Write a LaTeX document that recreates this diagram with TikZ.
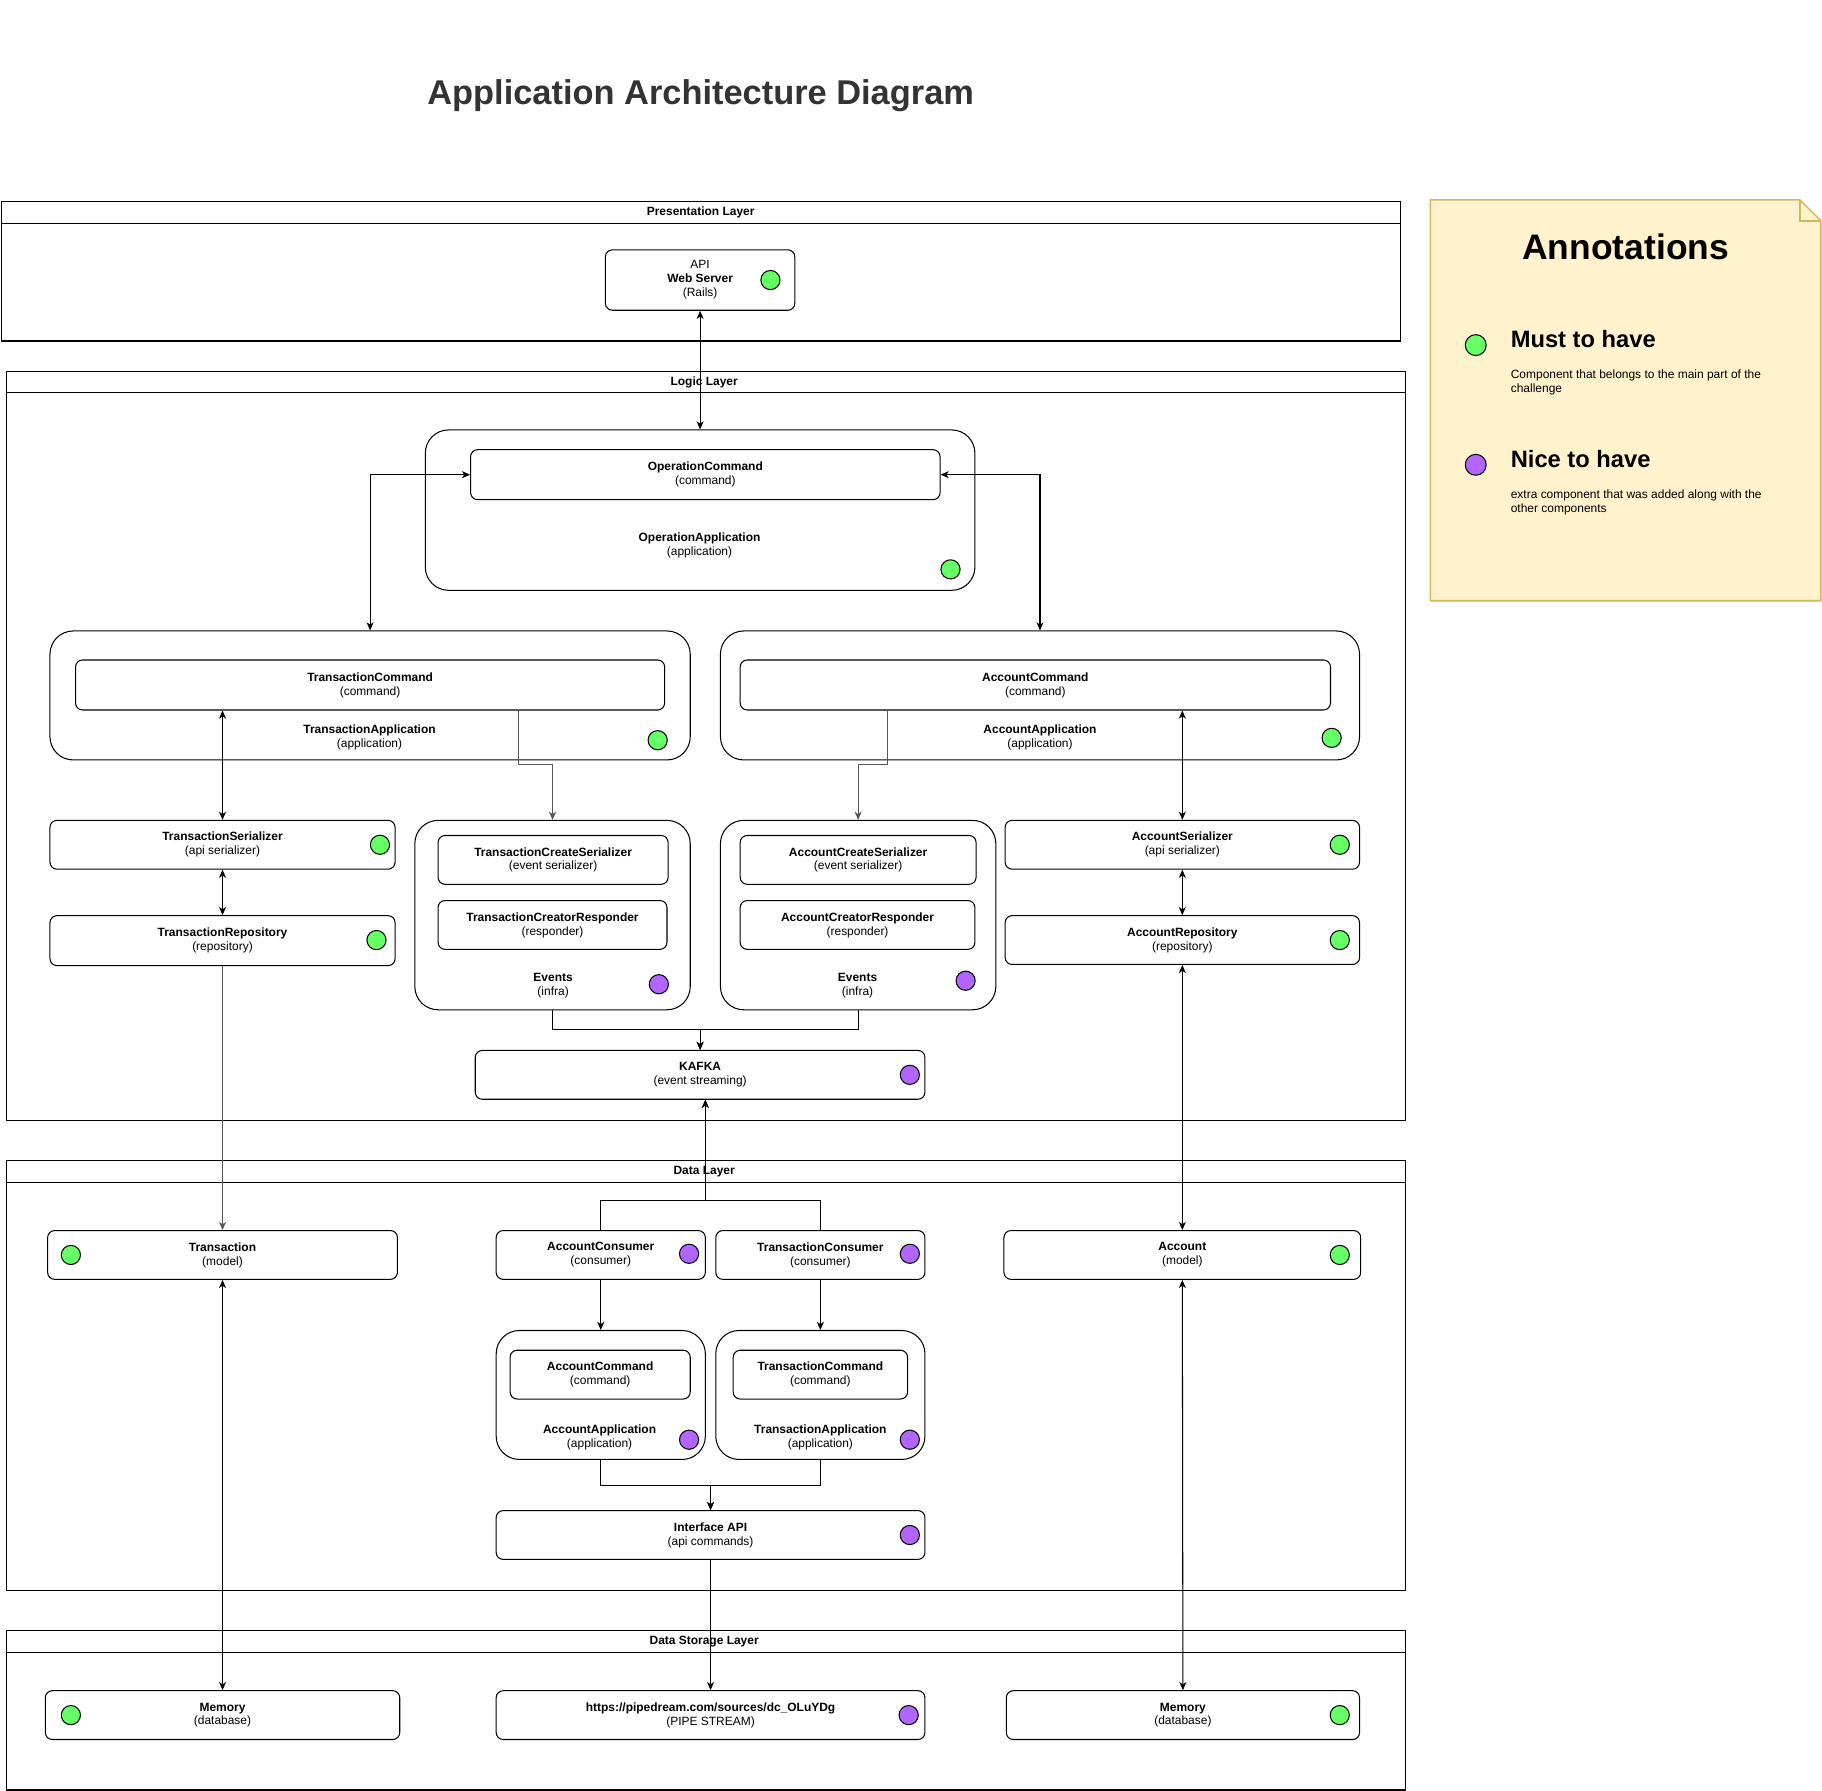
\documentclass[tikz,border=0pt]{standalone}
\usepackage{fontspec}
\setmainfont{Liberation Sans}
\usetikzlibrary{arrows.meta,calc}
\definecolor{mygreen}{HTML}{66FF66}
\definecolor{mypurple}{HTML}{B266FF}
\definecolor{notefill}{HTML}{FFF2CC}
\definecolor{notedraw}{HTML}{D6B656}
\definecolor{titlegray}{HTML}{333333}
\definecolor{linegray}{HTML}{555555}
\newcommand{\nf}{\fontsize{10.3}{12}\selectfont}
\newcommand{\nfb}{\fontsize{10.3}{12}\selectfont\bfseries}
\tikzset{
  box/.style={draw, fill=white, rounded corners=6pt, line width=0.9pt, align=center, inner sep=0pt, font=\nf},
  bigbox/.style={box, rounded corners=20pt},
  dotg/.style={circle, draw, fill=mygreen, minimum size=16.5pt, inner sep=0pt, line width=0.9pt},
  dotp/.style={dotg, fill=mypurple},
  layer/.style={draw, fill=white, line width=0.9pt, inner sep=0pt, anchor=north west},
  lbl/.style={font=\nf, align=center, inner sep=0pt},
  hdr/.style={font=\nfb, inner sep=0pt},
  arr/.style={-{Stealth[length=7pt,width=6pt,inset=2pt]}, line width=0.9pt},
  darr/.style={{Stealth[length=7pt,width=6pt,inset=2pt]}-{Stealth[length=7pt,width=6pt,inset=2pt]}, line width=0.9pt},
}
\begin{document}
\begin{tikzpicture}[x=1pt,y=-1pt]
\useasboundingbox (0,0) rectangle (1568,1541);

% title
\node[font=\fontsize{29.6}{34}\selectfont\bfseries, text=titlegray, inner sep=0pt] (title) at (603,82) {Application Architecture Diagram};

% layers
\node[layer, minimum width=1204.5pt, minimum height=120pt] (pres) at (0.5,173) {};
\draw[line width=0.9pt] (0.5,192) -- (1205,192);
\node[hdr] (presL) at (603,183) {Presentation Layer};

\node[layer, minimum width=1204pt, minimum height=645pt] (logic) at (5,319) {};
\draw[line width=0.9pt] (5,338) -- (1209,338);
\node[hdr] (logicL) at (606,329) {Logic Layer};

\node[layer, minimum width=1204pt, minimum height=370pt] (data) at (5,998) {};
\draw[line width=0.9pt] (5,1018) -- (1209,1018);
\node[hdr] (dataL) at (606,1008) {Data Layer};

\node[layer, minimum width=1204pt, minimum height=137pt] (store) at (5,1403) {};
\draw[line width=0.9pt] (5,1422) -- (1209,1422);
\node[hdr] (storeL) at (606,1413) {Data Storage Layer};

% annotations note
\filldraw[fill=notefill, draw=notedraw, line width=1.3pt] (1231,172) -- (1549,172) -- (1567,190) -- (1567,517) -- (1231,517) -- cycle;
\draw[draw=notedraw, line width=1.3pt] (1549,172) -- (1549,190) -- (1567,190);
\node[font=\fontsize{30.5}{35}\selectfont\bfseries, inner sep=0pt] (annT) at (1399,212) {Annotations};
\node[dotg, minimum size=18pt] (annG) at (1270,297) {};
\node[font=\fontsize{20.4}{24}\selectfont\bfseries, inner sep=0pt, anchor=west] (annM) at (1300,292) {Must to have};
\node[font=\nf, inner sep=0pt, anchor=north west, align=left] (annMd) at (1300,318) {Component that belongs to the main part of the\\challenge};
\node[dotp, minimum size=18pt] (annP) at (1270,400) {};
\node[font=\fontsize{20.4}{24}\selectfont\bfseries, inner sep=0pt, anchor=west] (annN) at (1300,395) {Nice to have};
\node[font=\nf, inner sep=0pt, anchor=north west, align=left] (annNd) at (1300,421) {extra component that was added along with the\\other components};

% presentation
\node[box, minimum width=163pt, minimum height=52pt] (web) at (602.5,241) {API\\\textbf{Web Server}\\(Rails)};
\node[dotg] (webD) at (663,241) {};

% operation application
\node[bigbox, minimum width=473pt, minimum height=138pt] (opapp) at (602.5,439) {};
\node[lbl] (opappL) at (602,469) {\textbf{OperationApplication}\\(application)};
\node[box, minimum width=404pt, minimum height=43pt] (opcmd) at (607,408.5) {\textbf{OperationCommand}\\(command)};
\node[dotg] (opD) at (818,490) {};

% transaction application
\node[bigbox, minimum width=551pt, minimum height=111pt] (txapp) at (318.5,598.5) {};
\node[lbl] (txappL) at (318,635) {\textbf{TransactionApplication}\\(application)};
\node[box, minimum width=507pt, minimum height=43pt] (txcmd) at (318.5,589.5) {\textbf{TransactionCommand}\\(command)};
\node[dotg] (txappD) at (566,637) {};

% account application
\node[bigbox, minimum width=550pt, minimum height=111pt] (acapp) at (895,598.5) {};
\node[lbl] (acappL) at (895,635) {\textbf{AccountApplication}\\(application)};
\node[box, minimum width=508pt, minimum height=43pt] (accmd) at (891,589.5) {\textbf{AccountCommand}\\(command)};
\node[dotg] (acappD) at (1146,635) {};

% serializers / repositories
\node[box, minimum width=297pt, minimum height=42pt] (txser) at (191.5,727) {\textbf{TransactionSerializer}\\(api serializer)};
\node[dotg] (txserD) at (327,727) {};
\node[box, minimum width=297pt, minimum height=43pt] (txrepo) at (191.5,809.5) {\textbf{TransactionRepository}\\(repository)};
\node[dotg] (txrepoD) at (324,809) {};
\node[box, minimum width=305pt, minimum height=42pt] (acser) at (1017.5,727) {\textbf{AccountSerializer}\\(api serializer)};
\node[dotg] (acserD) at (1153,727) {};
\node[box, minimum width=305pt, minimum height=42pt] (acrepo) at (1017.5,809) {\textbf{AccountRepository}\\(repository)};
\node[dotg] (acrepoD) at (1153,809) {};

% events
\node[bigbox, minimum width=237pt, minimum height=163pt] (evl) at (475.5,787.5) {};
\node[lbl] (evlL) at (476,848) {\textbf{Events}\\(infra)};
\node[box, minimum width=198pt, minimum height=42pt] (txcs) at (476,740) {\textbf{TransactionCreateSerializer}\\(event serializer)};
\node[box, minimum width=197pt, minimum height=42pt] (txcr) at (475.5,796) {\textbf{TransactionCreatorResponder}\\(responder)};
\node[dotp] (evlD) at (567,847) {};

\node[bigbox, minimum width=237pt, minimum height=163pt] (evr) at (738.5,787.5) {};
\node[lbl] (evrL) at (738,848) {\textbf{Events}\\(infra)};
\node[box, minimum width=203pt, minimum height=42pt] (accs) at (738.5,740) {\textbf{AccountCreateSerializer}\\(event serializer)};
\node[box, minimum width=202pt, minimum height=42pt] (accr) at (738,796) {\textbf{AccountCreatorResponder}\\(responder)};
\node[dotp] (evrD) at (831,844) {};

% kafka
\node[box, minimum width=387pt, minimum height=42pt] (kafka) at (602.5,925) {\textbf{KAFKA}\\(event streaming)};
\node[dotp] (kafkaD) at (783,925) {};

% data layer
\node[box, minimum width=301pt, minimum height=42pt] (trans) at (191.5,1080) {\textbf{Transaction}\\(model)};
\node[dotg] (transD) at (61,1080) {};
\node[box, minimum width=307pt, minimum height=42pt] (acct) at (1017.5,1080) {\textbf{Account}\\(model)};
\node[dotg] (acctD) at (1153,1080) {};
\node[box, minimum width=180pt, minimum height=42pt] (accons) at (517,1080) {\textbf{AccountConsumer}\\(consumer)};
\node[dotp] (acconsD) at (593,1079) {};
\node[box, minimum width=180pt, minimum height=42pt] (txcons) at (706,1080) {\textbf{TransactionConsumer}\\(consumer)};
\node[dotp] (txconsD) at (783,1079) {};

\node[bigbox, minimum width=180pt, minimum height=111pt] (acapp2) at (517,1200.5) {};
\node[lbl] (acapp2L) at (516,1237) {\textbf{AccountApplication}\\(application)};
\node[box, minimum width=155pt, minimum height=42pt] (accmd2) at (516.5,1183) {\textbf{AccountCommand}\\(command)};
\node[dotp] (acapp2D) at (593,1239) {};
\node[bigbox, minimum width=180pt, minimum height=111pt] (txapp2) at (706,1200.5) {};
\node[lbl] (txapp2L) at (706,1237) {\textbf{TransactionApplication}\\(application)};
\node[box, minimum width=150pt, minimum height=42pt] (txcmd2) at (706,1183) {\textbf{TransactionCommand}\\(command)};
\node[dotp] (txapp2D) at (783,1239) {};

\node[box, minimum width=369pt, minimum height=42pt] (ifapi) at (611.5,1321) {\textbf{Interface API}\\(api commands)};
\node[dotp] (ifapiD) at (783,1321) {};

% storage layer
\node[box, minimum width=305pt, minimum height=42pt] (meml) at (191.5,1476) {\textbf{Memory}\\(database)};
\node[dotg] (memlD) at (61,1476) {};
\node[box, minimum width=369pt, minimum height=42pt] (pipe) at (611.5,1476) {\textbf{https://pipedream.com/sources/dc\_OLuYDg}\\(PIPE STREAM)};
\node[dotp] (pipeD) at (782,1476) {};
\node[box, minimum width=304pt, minimum height=42pt] (memr) at (1018,1476) {\textbf{Memory}\\(database)};
\node[dotg] (memrD) at (1153,1476) {};

% junction coordinates
\coordinate (j1) at (446,658);
\coordinate (j2) at (764,658);
\coordinate (jk) at (602.5,886);
\coordinate (jc) at (607,1033);
\coordinate (ji) at (611.5,1278);

% connectors
\draw[darr] (web.south) -- (opapp.north);
\draw[darr] (opcmd.west) -| (txapp.north);
\draw[darr] (opcmd.east) -| (acapp.north);
\draw[darr] (txcmd.south -| txser.north) -- (txser.north);
\draw[darr] (txser.south) -- (txrepo.north);
\draw[darr] (accmd.south -| acser.north) -- (acser.north);
\draw[darr] (acser.south) -- (acrepo.north);
\draw[arr, draw=linegray] (j1 |- txcmd.south) -- (j1) -| (evl.north);
\draw[arr, draw=linegray] (j2 |- accmd.south) -- (j2) -| (evr.north);
\draw[arr] (evl.south) |- (jk) -- (kafka.north);
\draw[arr] (evr.south) |- (jk) -- (kafka.north);
\draw[arr, draw=linegray] (txrepo.south) -- (trans.north);
\draw[darr] (acct.north) -- (acrepo.south);
\draw[arr] (accons.north) |- (jc) -- (jc |- kafka.south);
\draw[arr] (txcons.north) |- (jc) -- (jc |- kafka.south);
\draw[arr] (accons.south) -- (acapp2.north);
\draw[arr] (txcons.south) -- (txapp2.north);
\draw[arr] (acapp2.south) |- (ji) -- (ifapi.north);
\draw[arr] (txapp2.south) |- (ji) -- (ifapi.north);
\draw[arr] (ifapi.south) -- (pipe.north);
\draw[darr] (trans.south) -- (meml.north);
\draw[darr] (acct.south) -- (memr.north);
\end{tikzpicture}
\end{document}
